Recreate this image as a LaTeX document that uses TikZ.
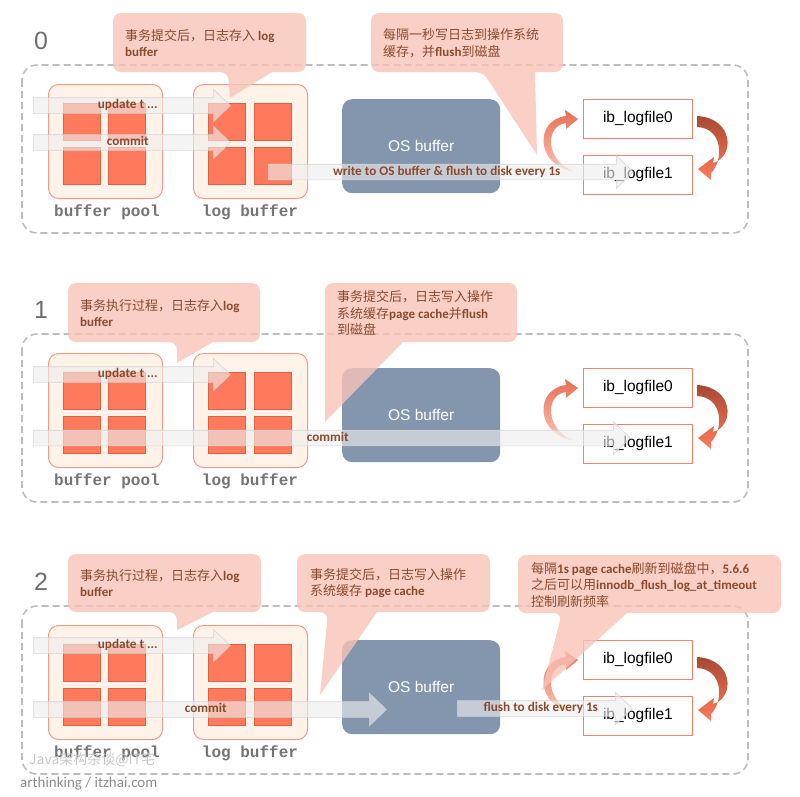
\documentclass[tikz,border=0pt]{standalone}
\usepackage{fontspec}
\setmainfont{Carlito}
\newfontfamily\cjkfont{Noto Sans CJK SC}
\newfontfamily\monofont{Liberation Mono}
\newfontfamily\helvfont{Liberation Sans}
\usetikzlibrary{shapes.arrows}
\usetikzlibrary{positioning}

\definecolor{panelgray}{HTML}{BDBDBD}
\definecolor{poolline}{HTML}{F39A86}
\definecolor{poolfill}{HTML}{FFF2E8}
\definecolor{cellred}{HTML}{FF7A5C}
\definecolor{celledge}{HTML}{DF6143}
\definecolor{labelgray}{HTML}{747474}
\definecolor{osblue}{HTML}{8396AE}
\definecolor{filered}{HTML}{F2806C}
\definecolor{digitgray}{HTML}{6E6E6E}
\definecolor{arrowfill}{HTML}{EEEEEE}
\definecolor{arrowedge}{HTML}{D2D2D2}
\definecolor{notepink}{HTML}{F7C3B8}
\definecolor{notebrown}{HTML}{8B4A2C}

\newcommand\enw[1]{{\bfseries\rmfamily #1}}

\tikzset{
  panelbox/.style={draw=panelgray, line width=1.6pt, dash pattern=on 7pt off 4pt, rounded corners=15pt},
  pool/.style={draw=poolline, fill=poolfill, line width=1pt, rounded corners=10pt,
    minimum width=114pt, minimum height=114pt, inner sep=0pt, anchor=north west},
  cell/.style={draw=celledge, fill=cellred, line width=0.9pt, minimum width=37pt,
    minimum height=36.5pt, inner sep=0pt, anchor=north west},
  poollabel/.style={font=\monofont\bfseries\fontsize{16}{16}\selectfont, text=labelgray},
  osbox/.style={fill=osblue, rounded corners=10pt, minimum width=158pt, minimum height=94pt,
    anchor=north west, text=white, font=\helvfont\fontsize{15.5}{15.5}\selectfont},
  logfile/.style={draw=filered, fill=white, line width=0.8pt, minimum width=109pt,
    minimum height=38.5pt, font=\helvfont\fontsize{15.5}{15.5}\selectfont},
  digit/.style={font=\helvfont\fontsize{25}{25}\selectfont, text=digitgray},
  fatarrow/.style={single arrow, single arrow head extend=8.5pt, single arrow tip angle=88,
    draw=arrowedge, fill=arrowfill, fill opacity=0.62, draw opacity=0.9, text opacity=1,
    line width=0.6pt, inner sep=0pt, text height=10.5pt, text depth=4.5pt,
    text=notebrown, font=\bfseries\fontsize{13.2}{13.2}\selectfont, anchor=tail},
  notefill/.style={fill=notepink, fill opacity=0.8},
  notetext/.style={anchor=west, align=left, inner sep=0pt, text=notebrown,
    font=\cjkfont\fontsize{13}{16.5}\selectfont},
  swirlleft/.style={top color=cellred!90!black, bottom color=cellred!45},
  swirlright/.style={top color=celledge!75!black, bottom color=cellred},
}

\begin{document}
\begin{tikzpicture}[x=1pt, y=-1pt]
  \useasboundingbox (0,0) rectangle (800,796);

  % the three stages share one layout
  \foreach \p/\dy in {0/0, 1/269, 2/541} {
    \begin{scope}[shift={(0,\dy)}]
      \draw[panelbox] (22,65) rectangle (748,233);
      \node[digit] (num\p) at (41,41) {\p};

      \node[pool] (bp\p) at (48,84) {};
      \node[pool] (lb\p) at (193,84) {};
      \foreach \i/\sx in {a/63, b/108}
        \foreach \j/\sy in {a/103, b/147}
          \node[cell] (bp\p\i\j) at (\sx,\sy) {};
      \foreach \i/\sx in {a/208, b/254}
        \foreach \j/\sy in {a/103, b/147}
          \node[cell] (lb\p\i\j) at (\sx,\sy) {};
      \node[poollabel] (bpname\p) at (107,212) {buffer pool};
      \node[poollabel] (lbname\p) at (250,212) {log buffer};

      \node[osbox] (os\p) at (342,99) {OS buffer};

      \node[logfile, anchor=north west] (lfa\p) at (583,99) {ib\_logfile0};
      \node[logfile, below=17pt of lfa\p] (lfb\p) {ib\_logfile1};

      % round trip between the two log files
      \shade[swirlleft] (578,119) -- (565,110) -- (566,116)
        .. controls (534,120) and (536,166) .. (573,171)
        .. controls (546,161) and (544,126) .. (566,123) -- (566,129) -- cycle;
      \shade[swirlright] (697,116) .. controls (734,118) and (735,157) .. (713,163)
        -- (714,157) -- (698,169) -- (711,180) -- (711,173)
        .. controls (724,160) and (723,128) .. (697,127) -- cycle;
    \end{scope}
  }

  % stage 0
  \node[fatarrow, minimum height=197pt] (upd0) at (33,105.5) {update t ...};
  \node[fatarrow, minimum height=197pt] (com0) at (33,142.5) {commit};
  \node[fatarrow, minimum height=365pt] (wrt0) at (268,172) {write to OS buffer \& flush to disk every 1s};

  % stage 1
  \node[fatarrow, minimum height=197pt] (upd1) at (33,374.5) {update t ...};
  \node[fatarrow, minimum height=597pt] (com1) at (33,438) {commit};

  % stage 2
  \node[fatarrow, minimum height=197pt] (upd2) at (33,645.5) {update t ...};
  \node[fatarrow, minimum height=353pt] (com2) at (33,709.5) {commit};
  \node[fatarrow, minimum height=175pt] (fls2) at (457,708.5) {flush to disk every 1s};

  % callouts
  \fill[notefill] (230,98) -- (272,72) [rounded corners=8pt] -- (306,72) -- (306,13)
    -- (113,13) -- (113,72) -- (228,72) [sharp corners] -- cycle;
  \node[notetext] (note0a) at (125,43) {事务提交后，日志存入 \enw{log}\\\enw{buffer}};

  \fill[notefill] (537,155) -- (535,72) [rounded corners=8pt] -- (563,72) -- (563,13)
    -- (371,13) -- (371,72) -- (483,72) [sharp corners] -- cycle;
  \node[notetext] (note0b) at (383,43) {每隔一秒写日志到操作系统\\缓存，并\enw{flush}到磁盘};

  \fill[notefill] (177,363) -- (213,342) [rounded corners=8pt] -- (260,342) -- (260,283)
    -- (68,283) -- (68,342) -- (177,342) [sharp corners] -- cycle;
  \node[notetext] (note1a) at (80,313) {事务执行过程，日志存入\enw{log}\\\enw{buffer}};

  \fill[notefill] (325,422) -- (403,342) [rounded corners=8pt] -- (517,342) -- (517,283)
    -- (325,283) -- (325,330) [sharp corners] -- cycle;
  \node[notetext] (note1b) at (337,313) {事务提交后，日志写入操作\\系统缓存\enw{page cache}并\enw{flush}\\到磁盘};

  \fill[notefill] (177,630) -- (213,612) [rounded corners=8pt] -- (261,612) -- (261,554)
    -- (68,554) -- (68,612) -- (177,612) [sharp corners] -- cycle;
  \node[notetext] (note2a) at (80,583) {事务执行过程，日志存入\enw{log}\\\enw{buffer}};

  \fill[notefill] (320,695) -- (377,612) [rounded corners=8pt] -- (490,612) -- (490,554)
    -- (297,554) -- (297,612) -- (328,612) [sharp corners] -- cycle;
  \node[notetext] (note2b) at (310,583) {事务提交后，日志写入操作\\系统缓存 \enw{page cache}};

  \fill[notefill] (542,690) -- (627,613) [rounded corners=8pt] -- (781,613) -- (781,555)
    -- (518,555) -- (518,613) -- (562,613) [sharp corners] -- cycle;
  \node[notetext] (note2c) at (531,585) {每隔\enw{1s page cache}刷新到磁盘中，\enw{5.6.6}\\之后可以用\enw{innodb\_flush\_log\_at\_timeout}\\控制刷新频率};

  % watermark
  \node[anchor=west, inner sep=0pt, text=black!22, font=\cjkfont\fontsize{14}{14}\selectfont] (mark1) at (29,760) {Java架构杂谈@IT宅};
  \node[anchor=west, inner sep=0pt, text=black!45, font=\fontsize{15}{15}\selectfont] (mark2) at (20,784) {arthinking / itzhai.com};
\end{tikzpicture}
\end{document}
